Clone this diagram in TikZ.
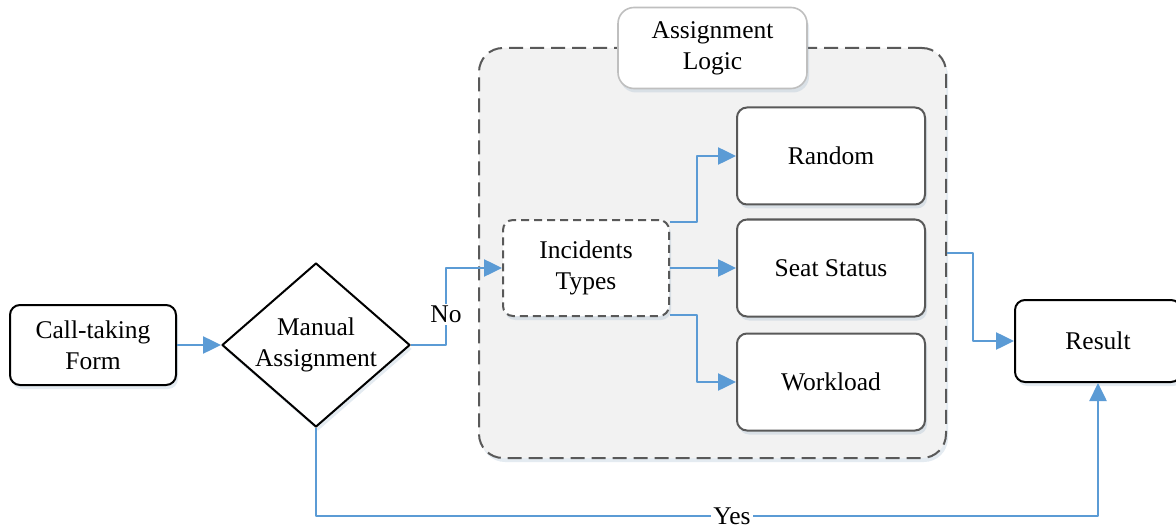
\documentclass[tikz,border=0pt]{standalone}
\usepackage{fontspec}
\setmainfont{Liberation Serif}
\usetikzlibrary{arrows.meta,shapes.geometric,shadows}
\definecolor{linkblue}{HTML}{5B9BD5}
\definecolor{panelgray}{HTML}{F2F2F2}
\definecolor{edgegray}{HTML}{595959}
\definecolor{tabgray}{HTML}{BFBFBF}

\begin{document}
\begin{tikzpicture}[x=0.5pt, y=-0.5pt, >={Triangle[length=9pt,width=8.5pt]},
    line join=round,
    every node/.style={font=\fontsize{12.75pt}{15.5pt}\selectfont, align=center},
    soft shadow/.style={drop shadow={shadow xshift=1pt, shadow yshift=-2pt, opacity=0.18, fill=linkblue!60!gray}},
    box/.style={draw=black, line width=1pt, rounded corners=5pt, fill=white, soft shadow},
    subbox/.style={draw=edgegray, line width=1pt, rounded corners=5pt, fill=white, soft shadow,
        minimum width=94pt, minimum height=48.5pt},
    link/.style={draw=linkblue, line width=1.25pt, ->}]
    \useasboundingbox (0,0) rectangle (1176,529);

    % container of the logic
    \node[draw=edgegray, line width=1pt, dash pattern=on 7pt off 3.5pt, rounded corners=12pt,
        fill=panelgray, soft shadow, minimum width=233.5pt, minimum height=205pt] (logicbox) at (712.5,253) {};
    \node[draw=tabgray, line width=0.8pt, rounded corners=8pt, fill=white, soft shadow,
        minimum width=94.5pt, minimum height=40.5pt] (logictab) at (712.5,48) {Assignment\\Logic};

    \node[box, minimum width=83pt, minimum height=40pt] (form) at (93,345) {Call-taking\\Form};
    \node[draw=black, line width=1pt, diamond, aspect=1.15, inner sep=0pt, fill=white, soft shadow,
        minimum width=94pt, minimum height=82pt] (decide) at (316,345) {Manual\\Assignment};

    \node[draw=edgegray, line width=1pt, dash pattern=on 4pt off 2.5pt, rounded corners=5pt, fill=white,
        soft shadow, minimum width=83pt, minimum height=48pt] (types) at (586,268) {Incidents\\Types};

    \node[subbox] (random) at (831,156) {Random};
    \node[subbox] (seat) at (831,268) {Seat Status};
    \node[subbox] (work) at (831,382) {Workload};

    \node[box, minimum width=83pt, minimum height=41pt] (result) at (1098,341) {Result};

    \coordinate (nobend) at (446,0);
    \coordinate (split) at (697,0);
    \coordinate (resbend) at (973,0);
    \coordinate (yesline) at (0,516);

    \draw[link] (form.east) -- (decide.west);
    \draw[link] (decide.east) -- (decide.east -| nobend) |- node[pos=0.2, fill=white, inner sep=1pt] {No} (types.west);
    \draw[link] ([yshift=-1.5pt]types.north east) -- ([yshift=-1.5pt]types.north east -| split) |- (random.west);
    \draw[link] (types.east) -- (seat.west);
    \draw[link] ([yshift=1pt]types.south east) -- ([yshift=1pt]types.south east -| split) |- (work.west);
    \draw[link] (logicbox.east) -- (logicbox.east -| resbend) |- (result.west);
    \draw[link] (decide.south) -- (decide.south |- yesline) -| node[pos=0.266, fill=white, inner sep=1pt] {Yes} (result.south);
\end{tikzpicture}
\end{document}
